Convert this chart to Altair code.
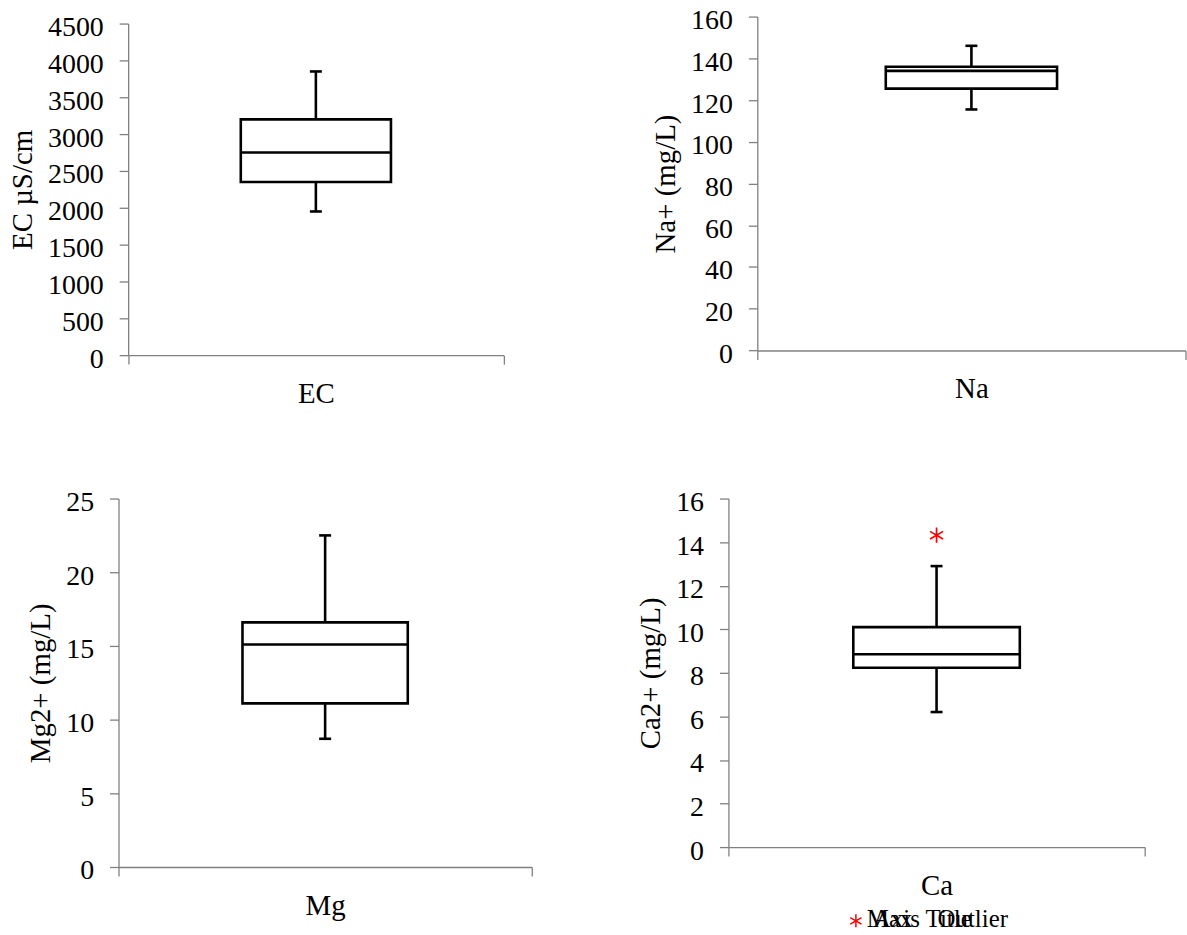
import altair as alt
import pandas as pd

FONT = "Liberation Serif"

# ---- data ----
categories = ["EC", "Na", "Mg", "Ca"]
y_titles = ["EC µS/cm", "Na+ (mg/L)", "Mg2+ (mg/L)", "Ca2+ (mg/L)"]
whisker_low = [1950, 115.5, 8.7, 6.2]
quartile_1 = [2350, 125.5, 11.1, 8.23]
median = [2750, 134.0, 15.1, 8.85]
quartile_3 = [3200, 136.0, 16.6, 10.1]
whisker_high = [3850, 146.0, 22.5, 12.9]
outlier_category = ["Ca"]
outlier_value = [14.32]
y_tick_values = [
    [0, 500, 1000, 1500, 2000, 2500, 3000, 3500, 4000, 4500],
    [0, 20, 40, 60, 80, 100, 120, 140, 160],
    [0, 5, 10, 15, 20, 25],
    [0, 2, 4, 6, 8, 10, 12, 14, 16],
]
legend_entries = ["Max", "Axis Title", "Outlier"]

STAR = "M0,-1L0,1M-0.866,-0.5L0.866,0.5M-0.866,0.5L0.866,-0.5"
SW = 2.6


def panel(i, w, h, x0=0.0, y0=0.0, with_outlier=False, legend=False):
    df = pd.DataFrame({
        "cat": [categories[i]],
        "lo": [whisker_low[i]],
        "q1": [quartile_1[i]],
        "med": [median[i]],
        "q3": [quartile_3[i]],
        "hi": [whisker_high[i]],
    })
    ticks = y_tick_values[i]
    x_axis = alt.Axis(title=categories[i], labels=False, tickBand="extent",
                      titlePadding=15, titleFont=FONT)
    x_scale = alt.Scale(paddingInner=0, paddingOuter=0, range=[x0, x0 + w])
    y_axis = alt.Axis(title=y_titles[i], values=ticks, format="d",
                      labelOffset=4, titlePadding=10, offset=-x0,
                      labelFont=FONT, labelFontSize=28, labelColor="black",
                      titleFont=FONT)
    y_scale = alt.Scale(domain=[ticks[0], ticks[-1]], nice=False, zero=True,
                        range=[y0 + h, y0])

    def X():
        return alt.X("cat:N", scale=x_scale, axis=x_axis)

    def Y(f):
        return alt.Y(f, type="quantitative", scale=y_scale, axis=y_axis)

    base = alt.Chart(df)
    layers = [
        base.mark_rule(color="black", strokeWidth=SW).encode(x=X(), y=Y("lo"), y2="q1"),
        base.mark_rule(color="black", strokeWidth=SW).encode(x=X(), y=Y("q3"), y2="hi"),
        base.mark_bar(width=alt.RelativeBandSize(0.4), fill="white", stroke="black",
                      strokeWidth=SW).encode(x=X(), y=Y("q1"), y2="q3"),
        base.mark_bar(width=alt.RelativeBandSize(0.4), fill="white", stroke="black",
                      strokeWidth=SW).encode(x=X(), y=Y("med"), y2="med"),
        base.mark_tick(orient="horizontal", size=12, thickness=SW, color="black",
                       opacity=1).encode(x=X(), y=Y("lo")),
        base.mark_tick(orient="horizontal", size=12, thickness=SW, color="black",
                       opacity=1).encode(x=X(), y=Y("hi")),
    ]
    if with_outlier:
        odf = pd.DataFrame({"cat": outlier_category, "v": outlier_value})
        layers.append(
            alt.Chart(odf).mark_point(shape=STAR, size=230, stroke="#ff0000",
                                      strokeWidth=1.7, filled=False, opacity=1)
            .encode(x=X(), y=Y("v"))
        )
    if legend:
        layers.append(
            base.mark_point(shape=STAR, size=170, stroke="#ff0000", strokeWidth=1.5,
                            filled=False, opacity=1)
            .encode(x=alt.value(128), y=alt.value(424))
        )
        for txt, xp in zip(legend_entries, [139, 145, 210]):
            layers.append(
                base.mark_text(text=txt, font=FONT, fontSize=25, align="left",
                               baseline="alphabetic", color="black")
                .encode(x=alt.value(xp), y=alt.value(430))
            )
    return alt.layer(*layers).properties(width=w + x0, height=h + y0)


p1 = panel(0, 377, 333, x0=9.7, y0=7)
p2 = panel(1, 430, 335.3)
p3 = panel(2, 415, 370)
p4 = panel(3, 418, 350, with_outlier=True, legend=True)

row1 = alt.hconcat(p1, p2, spacing=147.5)
row2 = alt.hconcat(p3, p4, spacing=104.5)

chart = (
    alt.vconcat(row1, row2, spacing=80)
    .properties(padding={"left": 8, "top": 4.7, "right": 0, "bottom": 0},
                background="white")
    .configure(style={
        "guide-label": {"font": FONT, "fontSize": 28, "fill": "black"},
        "guide-title": {"font": FONT, "fontSize": 29, "fill": "black"},
    })
    .configure_view(stroke=None)
    .configure_axis(
        labelFont=FONT, labelFontSize=28, labelColor="black",
        titleFont=FONT, titleFontSize=29, titleFontWeight="normal", titleColor="black",
        domainColor="#808080", tickColor="#808080", domainWidth=1.3, tickWidth=1.3,
        grid=False, tickSize=9, labelPadding=16,
    )
    .configure_axisY(labelFont=FONT)
)

chart.save("out.html", embed_options={"renderer": "svg", "actions": False})
